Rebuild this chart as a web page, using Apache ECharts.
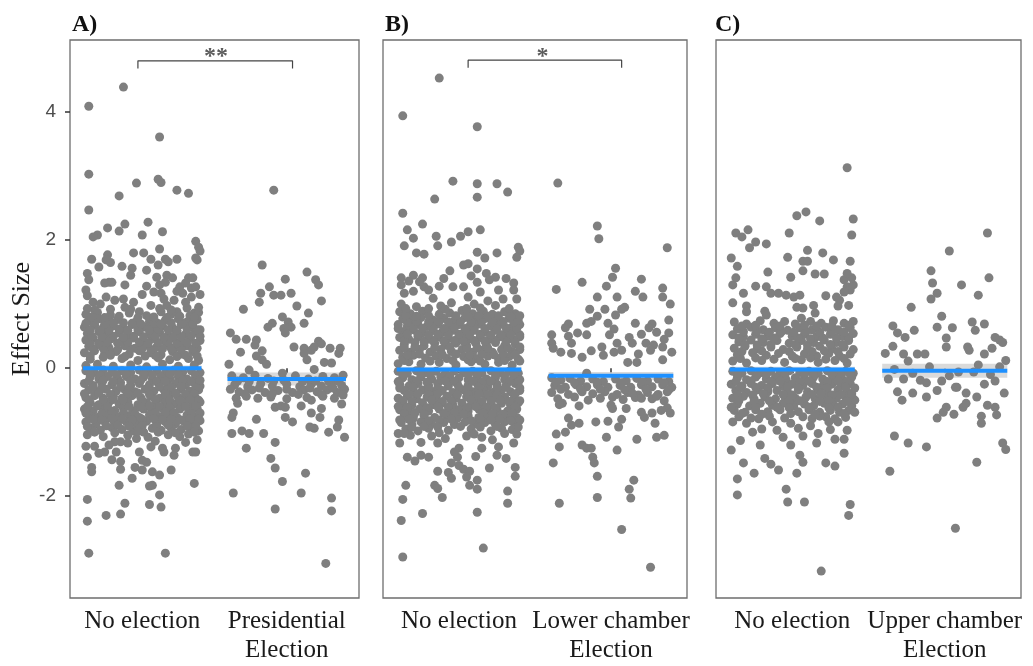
<!DOCTYPE html>
<html><head><meta charset="utf-8">
<script src="https://cdn.jsdelivr.net/npm/echarts@6/dist/echarts.min.js"></script>
<style>html,body{margin:0;padding:0;background:#fff}#c{width:1033px;height:666px}</style>
</head><body><div id="c"></div>
<script>
// ---- categories / labels ----
const panelTitles = ['A)', 'B)', 'C)'];
const catsA = ['No election', 'Presidential\nElection'];
const catsB = ['No election', 'Lower chamber\nElection'];
const catsC = ['No election', 'Upper chamber\nElection'];
const yTicks = [-2, 0, 2, 4];
const xTicks = [1, 2];

// ---- points: [jitter offset within category, effect size] ----
const aNo = [
[-0.37,4.09],[-0.13,4.39],[0.12,3.61],[-0.37,3.03],[-0.04,2.89],[0.11,2.95],[0.13,2.90],[0.24,2.78],[0.32,2.73],[-0.16,2.69],
[-0.37,2.47],[0.04,2.28],[-0.12,2.25],[-0.24,2.19],[-0.16,2.14],[0.14,2.13],[-0.31,2.08],[-0.34,2.05],[0.00,2.08],[0.37,1.98],[0.39,1.89],[0.40,1.83],[-0.06,1.80],[0.01,1.80],[0.12,1.86],[-0.24,1.77],[-0.25,1.69],[-0.35,1.70],[0.06,1.70],[0.16,1.70],[0.24,1.70],[0.38,1.69],[-0.14,1.59],[-0.07,1.56],[0.11,1.61],[-0.30,1.58],[-0.22,1.65],[0.18,1.66],[0.37,1.72],
[-0.38,1.48],[-0.37,1.38],[-0.39,1.22],[0.03,1.53],[0.17,1.45],[0.21,1.41],[0.32,1.41],[-0.23,1.34],[-0.12,1.30],[0.03,1.28],[0.12,1.30],[0.26,1.27],[0.34,1.25],[-0.08,1.45],[0.10,1.42],[0.16,1.34],[-0.26,1.33],[-0.21,1.34],[0.30,1.33],[0.35,1.41],[0.37,1.27],[0.13,1.17],[0.08,1.19],[0.28,1.17],[0.34,1.11],[-0.34,1.03],[-0.25,1.11],[-0.19,1.06],[-0.33,0.91],[-0.12,0.95],[-0.06,1.03],[-0.02,0.88],[0.06,0.98],[0.17,0.98],[0.22,1.06],[0.24,0.88],[0.31,0.94],[0.36,0.86],[0.05,0.72],
[-0.39,0.84],[-0.31,0.87],[-0.22,0.83],[-0.09,0.86],[0.03,0.82],[0.13,0.88],[0.20,0.84],[0.33,0.82],[0.39,0.87],
[-0.37,0.74],[-0.30,0.77],[-0.23,0.72],[-0.17,0.76],[-0.04,0.73],[0.05,0.78],[0.10,0.71],[0.16,0.75],[0.25,0.77],[0.31,0.72],[0.38,0.76],
[-0.40,0.64],[-0.33,0.67],[-0.27,0.63],[-0.20,0.66],[-0.13,0.62],[-0.07,0.68],[0.02,0.64],[0.08,0.61],[0.14,0.66],[0.21,0.63],[0.27,0.68],[0.35,0.64],[0.40,0.60],
[-0.38,0.54],[-0.30,0.57],[-0.25,0.52],[-0.16,0.55],[-0.10,0.51],[-0.02,0.57],[0.05,0.53],[0.12,0.56],[0.18,0.51],[0.24,0.57],[0.30,0.53],[0.37,0.56],
[-0.39,0.44],[-0.34,0.47],[-0.27,0.42],[-0.21,0.46],[-0.14,0.43],[-0.06,0.47],[0.00,0.42],[0.07,0.46],[0.15,0.43],[0.20,0.47],[0.28,0.41],[0.33,0.46],[0.40,0.43],
[-0.37,0.34],[-0.30,0.37],[-0.23,0.32],[-0.12,0.35],[-0.05,0.31],[0.03,0.36],[0.10,0.33],[0.17,0.37],[0.23,0.32],[0.31,0.35],[0.38,0.31],
[-0.40,0.24],[-0.33,0.27],[-0.26,0.23],[-0.18,0.26],[-0.09,0.22],[-0.02,0.27],[0.06,0.24],[0.13,0.21],[0.21,0.26],[0.27,0.22],[0.35,0.26],
[-0.36,0.14],[-0.27,0.17],[-0.14,0.15],[-0.03,0.12],[0.11,0.16],[0.19,0.13],[0.32,0.15],[0.39,0.12],
[-0.39,0.04],[-0.31,0.06],[-0.20,0.03],[-0.08,0.05],[0.03,0.02],[0.14,0.06],[0.25,0.03],[0.36,0.05],
[-0.39,-0.04],[-0.33,-0.07],[-0.27,-0.03],[-0.21,-0.06],[-0.14,-0.04],[-0.08,-0.07],[-0.02,-0.03],[0.04,-0.06],[0.10,-0.04],[0.16,-0.07],[0.22,-0.03],[0.28,-0.06],[0.34,-0.04],[0.40,-0.07],
[-0.36,-0.14],[-0.30,-0.17],[-0.24,-0.13],[-0.17,-0.16],[-0.11,-0.13],[-0.05,-0.17],[0.01,-0.14],[0.07,-0.17],[0.13,-0.13],[0.19,-0.16],[0.25,-0.14],[0.31,-0.17],[0.37,-0.13],
[-0.40,-0.24],[-0.34,-0.27],[-0.28,-0.23],[-0.21,-0.26],[-0.15,-0.23],[-0.08,-0.27],[-0.02,-0.24],[0.05,-0.26],[0.11,-0.23],[0.18,-0.27],[0.23,-0.24],[0.30,-0.26],[0.36,-0.23],[0.40,-0.28],
[-0.37,-0.34],[-0.31,-0.37],[-0.25,-0.33],[-0.18,-0.36],[-0.12,-0.34],[-0.05,-0.37],[0.02,-0.33],[0.08,-0.36],[0.15,-0.34],[0.21,-0.37],[0.27,-0.33],[0.33,-0.36],[0.39,-0.34],
[-0.39,-0.46],[-0.33,-0.43],[-0.27,-0.47],[-0.20,-0.44],[-0.14,-0.47],[-0.07,-0.43],[-0.01,-0.46],[0.06,-0.44],[0.12,-0.47],[0.19,-0.43],[0.25,-0.46],[0.31,-0.44],[0.37,-0.47],
[-0.36,-0.54],[-0.30,-0.57],[-0.23,-0.53],[-0.16,-0.56],[-0.10,-0.53],[-0.03,-0.57],[0.03,-0.54],[0.09,-0.57],[0.16,-0.53],[0.22,-0.56],[0.29,-0.54],[0.35,-0.57],[0.40,-0.53],
[-0.40,-0.64],[-0.34,-0.67],[-0.27,-0.63],[-0.19,-0.66],[-0.13,-0.63],[-0.06,-0.67],[0.01,-0.64],[0.07,-0.66],[0.14,-0.63],[0.20,-0.67],[0.26,-0.64],[0.33,-0.66],[0.38,-0.63],
[-0.37,-0.74],[-0.31,-0.77],[-0.24,-0.73],[-0.17,-0.76],[-0.09,-0.74],[-0.02,-0.77],[0.05,-0.73],[0.12,-0.76],[0.18,-0.74],[0.24,-0.77],[0.31,-0.73],[0.37,-0.76],
[-0.39,-0.84],[-0.32,-0.87],[-0.26,-0.83],[-0.19,-0.86],[-0.11,-0.84],[-0.04,-0.87],[0.03,-0.83],[0.10,-0.86],[0.16,-0.84],[0.23,-0.87],[0.29,-0.83],[0.36,-0.86],[0.40,-0.82],
[-0.36,-0.94],[-0.29,-0.97],[-0.21,-0.93],[-0.14,-0.96],[-0.06,-0.98],[0.07,-0.94],[0.13,-0.97],[0.20,-0.93],[0.27,-0.96],[0.34,-0.94],[0.39,-0.98],
[-0.38,-1.04],[-0.27,-1.07],[-0.10,-1.05],[0.04,-1.08],[0.18,-1.04],[0.26,-1.07],[0.32,-1.03],
[-0.39,-1.22],[-0.33,-1.22],[-0.38,-1.39],[-0.35,-1.55],[-0.35,-1.62],[-0.26,-1.31],[-0.21,-1.43],[-0.15,-1.46],[-0.18,-1.31],[-0.15,-1.15],[-0.19,-1.15],[-0.04,-1.10],[0.01,-1.00],[-0.05,-1.55],[0.00,-1.59],[-0.07,-1.72],[-0.15,-1.58],[-0.16,-1.83],[0.07,-1.62],[0.12,-1.67],[0.20,-1.59],[0.05,-1.84],[0.07,-1.83],[0.12,-1.98],[0.05,-2.13],[0.13,-2.17],[-0.12,-2.11],[-0.38,-2.05],[-0.25,-2.30],[-0.15,-2.28],[-0.38,-2.39],[-0.37,-2.89],[0.16,-2.89],[0.36,-1.80],[0.35,-1.31],[0.37,-1.31],[0.14,-1.25],[0.15,-1.31],[0.22,-1.36],[0.23,-1.25],[0.00,-1.44],[-0.02,-1.31],[0.06,-1.23],[-0.23,-1.20],[-0.30,-1.33],[0.03,-1.47],[0.09,-1.14],[-0.10,-1.17],[0.30,-1.16],[0.38,-1.12]
];
const aNoCore = [
[-0.36,-0.10],[-0.29,-0.11],[-0.18,-0.10],[-0.11,-0.09],[0.01,-0.10],[0.07,-0.11],[0.19,-0.10],[0.25,-0.09],[0.37,-0.11],
[-0.37,-0.20],[-0.27,-0.19],[-0.20,-0.21],[-0.08,-0.20],[-0.01,-0.19],[0.10,-0.21],[0.16,-0.20],[0.28,-0.19],[0.34,-0.21],[0.40,-0.19],
[-0.34,-0.30],[-0.28,-0.31],[-0.15,-0.29],[-0.09,-0.30],[0.04,-0.31],[0.12,-0.29],[0.20,-0.30],[0.27,-0.29],[0.37,-0.31],
[-0.40,-0.40],[-0.30,-0.39],[-0.22,-0.41],[-0.10,-0.40],[-0.03,-0.39],[0.05,-0.41],[0.16,-0.40],[0.23,-0.39],[0.30,-0.41],[0.36,-0.40],
[-0.37,-0.50],[-0.27,-0.51],[-0.20,-0.49],[-0.13,-0.50],[0.00,-0.51],[0.09,-0.49],[0.19,-0.50],[0.26,-0.51],[0.33,-0.49],[0.39,-0.50],
[-0.38,-0.60],[-0.31,-0.59],[-0.24,-0.61],[-0.09,-0.60],[-0.01,-0.61],[0.05,-0.59],[0.12,-0.60],[0.19,-0.61],[0.30,-0.60],[0.37,-0.59],
[-0.39,-0.70],[-0.28,-0.71],[-0.21,-0.69],[-0.13,-0.70],[-0.05,-0.71],[0.09,-0.70],[0.16,-0.69],[0.22,-0.70],[0.34,-0.71],[0.40,-0.70],
[-0.34,-0.80],[-0.28,-0.81],[-0.21,-0.79],[-0.14,-0.80],[-0.07,-0.81],[0.00,-0.80],[0.08,-0.79],[0.14,-0.81],[0.20,-0.80],[0.27,-0.81],[0.33,-0.79],[0.39,-0.80],
[-0.38,-0.91],[-0.25,-0.90],[-0.17,-0.89],[-0.09,-0.91],[0.00,-0.90],[0.10,-0.91],[0.18,-0.89],[0.31,-0.90],[0.37,-0.91],
[-0.33,-1.00],[-0.19,-1.01],[-0.03,-0.99],[0.11,-1.00],[0.23,-1.01],[0.36,-1.00],
[-0.36,0.19],[-0.22,0.20],[-0.12,0.18],[0.02,0.19],[0.09,0.20],[0.24,0.18],[0.30,0.20],[0.38,0.19],
[-0.34,0.30],[-0.27,0.31],[-0.17,0.29],[-0.08,0.30],[0.00,0.31],[0.06,0.29],[0.14,0.30],[0.20,0.31],[0.27,0.29],[0.35,0.30],
[-0.36,0.40],[-0.30,0.39],[-0.24,0.41],[-0.17,0.39],[-0.10,0.40],[-0.02,0.41],[0.04,0.39],[0.11,0.40],[0.18,0.41],[0.24,0.39],[0.31,0.40],[0.37,0.39],
[-0.35,0.50],[-0.28,0.49],[-0.20,0.50],[-0.13,0.48],[-0.06,0.50],[0.01,0.49],[0.09,0.50],[0.15,0.48],[0.22,0.50],[0.27,0.49],[0.34,0.51],[0.40,0.50],
[-0.36,0.60],[-0.29,0.59],[-0.23,0.60],[-0.16,0.61],[-0.10,0.59],[-0.03,0.60],[0.05,0.59],[0.11,0.61],[0.18,0.60],[0.24,0.59],[0.31,0.61],[0.38,0.60],
[-0.39,0.70],[-0.33,0.71],[-0.26,0.69],[-0.20,0.70],[-0.13,0.71],[-0.07,0.70],[-0.01,0.69],[0.08,0.70],[0.13,0.69],[0.20,0.71],[0.28,0.70],[0.35,0.69],
[-0.35,0.80],[-0.26,0.79],[-0.16,0.81],[-0.03,0.79],[0.08,0.80],[0.17,0.79],[0.26,0.81],[0.36,0.80],
[-0.38,0.93],[-0.22,0.92],[-0.08,0.92],[0.12,0.93],[0.20,0.91],[0.39,0.95],
[-0.29,1.00],[-0.13,1.08],[0.00,1.15],[0.15,1.08],[0.30,1.03],[-0.38,1.13],[0.40,1.15],[0.24,1.20]
];
const aPres = [
[-0.09,2.78],[-0.17,1.61],[0.14,1.50],[0.20,1.38],[0.22,1.30],[-0.01,1.39],[-0.12,1.27],[-0.18,1.17],[-0.09,1.14],[-0.04,1.14],[0.03,1.17],[-0.19,1.03],[0.24,1.05],[-0.30,0.92],[0.07,0.97],[0.15,0.86],[-0.03,0.80],[-0.10,0.70],[-0.13,0.64],[0.01,0.72],[0.03,0.64],[0.12,0.70],[-0.02,0.62],[-0.01,0.55],[-0.39,0.55],[-0.35,0.45],[-0.28,0.45],[-0.21,0.44],[-0.22,0.36],[-0.32,0.25],[-0.21,0.19],[-0.17,0.13],[-0.14,0.06],[-0.17,0.27],[0.05,0.33],[0.12,0.31],[0.17,0.28],[0.22,0.42],[0.24,0.38],[0.19,0.33],[0.30,0.31],[0.37,0.31],[0.36,0.23],[0.26,0.09],[0.31,0.08],[-0.40,0.06],[-0.03,-0.08],[0.12,0.23],[0.14,0.13],
[-0.38,-0.12],[-0.30,-0.15],[-0.22,-0.11],[-0.13,-0.16],[0.06,-0.12],[0.15,-0.17],[0.25,-0.13],[0.33,-0.15],[0.39,-0.11],[-0.26,-0.03],[0.19,-0.02],
[-0.36,-0.26],[-0.27,-0.29],[-0.18,-0.24],[-0.10,-0.28],[0.00,-0.25],[0.09,-0.29],[0.17,-0.25],[0.24,-0.28],[0.31,-0.24],[0.38,-0.27],
[-0.33,-0.37],[-0.24,-0.34],[-0.15,-0.38],[-0.06,-0.35],[0.04,-0.38],[0.12,-0.34],[0.21,-0.37],[0.28,-0.34],[0.35,-0.38],[0.40,-0.33],
[-0.28,-0.44],[-0.20,-0.47],[-0.11,-0.45],[0.00,-0.48],[0.14,-0.46],[0.25,-0.44],[0.33,-0.47],
[-0.34,-0.20],[-0.26,-0.21],[-0.09,-0.20],[-0.02,-0.19],[0.11,-0.21],[0.20,-0.20],[0.29,-0.21],[0.36,-0.20],
[-0.39,-0.33],[-0.29,-0.40],[-0.19,-0.31],[-0.10,-0.40],[0.00,-0.33],[0.08,-0.41],[0.16,-0.31],[0.24,-0.41],[0.32,-0.31],[0.39,-0.42],
[-0.35,-0.47],[-0.34,-0.55],[-0.37,-0.70],[-0.38,-0.77],[-0.38,-1.02],[-0.31,-0.98],[-0.26,-1.02],[-0.28,-1.25],[-0.21,-0.80],[-0.16,-1.02],[-0.08,-0.61],[-0.04,-0.59],[-0.01,-0.61],[-0.01,-0.77],[0.04,-0.84],[0.10,-0.59],[0.17,-0.50],[0.17,-0.70],[0.23,-0.77],[0.24,-0.63],[0.16,-0.92],[0.19,-0.94],[0.29,-1.00],[0.36,-0.81],[0.35,-0.92],[0.38,-0.56],[0.40,-1.08],[-0.08,-1.16],[-0.11,-1.41],[-0.08,-1.56],[-0.03,-1.77],[0.13,-1.64],[0.10,-1.95],[-0.37,-1.95],[-0.08,-2.20],[0.31,-2.03],[0.31,-2.23],[0.27,-3.05]
];
const bNo = [
[-0.13,4.53],[-0.37,3.94],[0.12,3.77],[-0.04,2.92],[0.12,2.88],[0.25,2.88],[0.32,2.75],[0.12,2.67],[-0.16,2.64],
[-0.37,2.42],[-0.24,2.25],[-0.34,2.16],[-0.30,2.03],[-0.36,1.91],[-0.15,2.06],[-0.14,1.91],[-0.05,1.97],[0.01,2.06],[0.06,2.13],[0.14,2.16],[-0.28,1.80],[-0.23,1.78],[0.12,1.81],[0.17,1.72],[0.25,1.80],[0.39,1.89],[0.40,1.83],[0.38,1.73],[-0.06,1.52],[0.03,1.61],[0.06,1.63],[0.12,1.55],[0.18,1.48],[0.24,1.42],[-0.30,1.45],[-0.38,1.41],[-0.38,1.30],[-0.24,1.41],[-0.23,1.27],[-0.13,1.28],[-0.04,1.27],[0.03,1.27],[0.12,1.34],[0.14,1.19],[0.36,1.33],[0.36,1.22],[0.26,1.22],[-0.36,1.17],[-0.20,1.22],[-0.17,1.09],[-0.12,0.97],[-0.05,1.02],[0.06,1.11],[0.19,1.05],[0.29,1.08],[0.38,1.08],[-0.33,1.36],[-0.26,1.35],[0.20,1.38],[0.31,1.40],[0.08,1.44],[-0.10,1.40],[-0.30,1.20],[0.10,1.00],[0.24,0.98],[-0.38,1.00],[-0.28,0.96],
[-0.39,0.88],[-0.32,0.85],[-0.24,0.89],[-0.06,0.86],[0.02,0.90],[0.09,0.85],[0.16,0.89],[0.22,0.84],[0.30,0.88],[0.37,0.85],
[-0.37,0.77],[-0.31,0.74],[-0.25,0.79],[-0.17,0.75],[-0.10,0.78],[-0.03,0.74],[0.04,0.79],[0.11,0.75],[0.18,0.78],[0.25,0.74],[0.33,0.78],[0.39,0.75],
[-0.40,0.68],[-0.34,0.65],[-0.27,0.69],[-0.21,0.65],[-0.14,0.69],[-0.07,0.64],[0.00,0.68],[0.07,0.65],[0.13,0.69],[0.21,0.66],[0.28,0.69],[0.35,0.64],[0.40,0.68],
[-0.37,0.57],[-0.30,0.60],[-0.24,0.55],[-0.17,0.59],[-0.11,0.56],[-0.04,0.59],[0.03,0.55],[0.10,0.59],[0.17,0.56],[0.24,0.59],[0.31,0.55],[0.37,0.58],
[-0.39,0.48],[-0.33,0.45],[-0.27,0.49],[-0.20,0.45],[-0.13,0.49],[-0.07,0.46],[0.00,0.49],[0.06,0.45],[0.14,0.48],[0.20,0.45],[0.27,0.49],[0.34,0.46],[0.40,0.49],
[-0.36,0.37],[-0.29,0.40],[-0.23,0.35],[-0.16,0.39],[-0.09,0.36],[-0.02,0.39],[0.05,0.35],[0.11,0.39],[0.18,0.36],[0.24,0.40],[0.30,0.35],[0.37,0.38],
[-0.39,0.28],[-0.32,0.25],[-0.26,0.29],[-0.19,0.25],[-0.12,0.29],[-0.05,0.26],[0.02,0.29],[0.09,0.25],[0.15,0.28],[0.22,0.25],[0.28,0.29],[0.35,0.26],[0.40,0.29],
[-0.37,0.17],[-0.30,0.20],[-0.22,0.16],[-0.15,0.19],[-0.08,0.15],[0.03,0.18],[0.11,0.15],[0.19,0.19],[0.26,0.15],[0.33,0.18],[0.39,0.14],
[-0.40,0.07],[-0.33,0.10],[-0.25,0.06],[-0.13,0.09],[-0.02,0.05],[0.08,0.10],[0.17,0.06],[0.26,0.09],[0.35,0.05],
[-0.40,-0.05],[-0.34,-0.08],[-0.28,-0.04],[-0.22,-0.07],[-0.15,-0.05],[-0.09,-0.08],[-0.03,-0.04],[0.03,-0.07],[0.09,-0.05],[0.15,-0.08],[0.21,-0.04],[0.27,-0.07],[0.33,-0.05],[0.39,-0.08],
[-0.37,-0.15],[-0.31,-0.18],[-0.25,-0.14],[-0.18,-0.17],[-0.12,-0.14],[-0.06,-0.18],[0.00,-0.15],[0.06,-0.18],[0.12,-0.14],[0.18,-0.17],[0.24,-0.15],[0.30,-0.18],[0.36,-0.14],[0.40,-0.18],
[-0.39,-0.25],[-0.33,-0.28],[-0.27,-0.24],[-0.20,-0.27],[-0.14,-0.24],[-0.07,-0.28],[-0.01,-0.25],[0.06,-0.27],[0.12,-0.24],[0.19,-0.28],[0.25,-0.25],[0.31,-0.27],[0.37,-0.24],
[-0.36,-0.35],[-0.30,-0.38],[-0.24,-0.34],[-0.17,-0.37],[-0.11,-0.35],[-0.04,-0.38],[0.03,-0.34],[0.09,-0.37],[0.16,-0.35],[0.22,-0.38],[0.28,-0.34],[0.34,-0.37],[0.40,-0.35],
[-0.40,-0.47],[-0.34,-0.44],[-0.28,-0.48],[-0.21,-0.45],[-0.15,-0.48],[-0.08,-0.44],[-0.02,-0.47],[0.05,-0.45],[0.11,-0.48],[0.18,-0.44],[0.24,-0.47],[0.30,-0.45],[0.36,-0.48],
[-0.37,-0.55],[-0.31,-0.58],[-0.24,-0.54],[-0.17,-0.57],[-0.11,-0.54],[-0.04,-0.58],[0.02,-0.55],[0.08,-0.58],[0.15,-0.54],[0.21,-0.57],[0.28,-0.55],[0.34,-0.58],[0.39,-0.54],
[-0.39,-0.65],[-0.33,-0.68],[-0.26,-0.64],[-0.20,-0.67],[-0.13,-0.64],[-0.07,-0.68],[0.00,-0.65],[0.06,-0.67],[0.13,-0.64],[0.19,-0.68],[0.25,-0.65],[0.32,-0.67],[0.38,-0.64],
[-0.36,-0.75],[-0.30,-0.78],[-0.23,-0.74],[-0.16,-0.77],[-0.08,-0.75],[-0.01,-0.78],[0.06,-0.74],[0.13,-0.77],[0.19,-0.75],[0.25,-0.78],[0.32,-0.74],[0.38,-0.77],
[-0.38,-0.85],[-0.31,-0.88],[-0.25,-0.84],[-0.18,-0.87],[-0.10,-0.85],[-0.03,-0.88],[0.04,-0.84],[0.11,-0.87],[0.17,-0.85],[0.24,-0.88],[0.30,-0.84],[0.37,-0.87],
[-0.35,-0.95],[-0.27,-0.98],[-0.20,-0.94],[-0.07,-0.97],[0.08,-0.95],[0.21,-0.98],[0.28,-0.94],[0.35,-0.96],
[-0.39,-1.17],[-0.32,-1.05],[-0.25,-1.16],[-0.34,-1.39],[-0.29,-1.45],[-0.25,-1.36],[-0.20,-1.39],[-0.14,-1.17],[-0.14,-1.61],[-0.05,-1.48],[-0.07,-1.63],[-0.05,-1.72],[-0.01,-1.39],[0.00,-1.52],[0.03,-1.58],[0.07,-1.61],[0.05,-1.70],[0.07,-1.83],[0.12,-1.75],[0.12,-1.89],[-0.16,-1.83],[-0.14,-1.88],[-0.11,-2.02],[-0.35,-1.83],[-0.37,-2.05],[-0.24,-2.27],[-0.38,-2.38],[-0.37,-2.95],[0.16,-2.81],[0.12,-2.25],[0.20,-1.56],[0.32,-1.92],[0.32,-2.11],[0.37,-1.69],[0.37,-1.55],[0.31,-1.41],[0.26,-1.23],[0.25,-1.36],[0.15,-1.25],[0.11,-1.38],[0.36,-1.17],[0.38,-1.03],[0.15,-1.08],[0.00,-1.25],[-0.03,-1.31],[-0.40,-1.02],[-0.09,-1.10],[0.05,-1.06],[-0.18,-1.06],[0.22,-1.12]
];
const bNoCore = [
[-0.37,-0.10],[-0.25,-0.11],[-0.19,-0.10],[-0.06,-0.12],[0.06,-0.10],[0.12,-0.11],[0.24,-0.10],[0.30,-0.12],[0.36,-0.10],
[-0.40,-0.21],[-0.28,-0.20],[-0.21,-0.22],[-0.09,-0.20],[-0.03,-0.21],[0.09,-0.20],[0.15,-0.22],[0.21,-0.20],[0.33,-0.21],[0.39,-0.22],
[-0.39,-0.31],[-0.30,-0.30],[-0.20,-0.32],[-0.14,-0.31],[0.00,-0.30],[0.06,-0.32],[0.13,-0.30],[0.25,-0.31],[0.31,-0.30],[0.40,-0.31],
[-0.33,-0.41],[-0.27,-0.40],[-0.20,-0.42],[-0.14,-0.40],[-0.01,-0.41],[0.06,-0.42],[0.13,-0.40],[0.19,-0.41],[0.25,-0.42],[0.37,-0.40],
[-0.37,-0.51],[-0.31,-0.52],[-0.18,-0.50],[-0.11,-0.52],[-0.05,-0.51],[0.08,-0.50],[0.15,-0.52],[0.21,-0.51],[0.27,-0.50],[0.33,-0.52],[0.40,-0.51],
[-0.40,-0.60],[-0.34,-0.61],[-0.21,-0.62],[-0.14,-0.60],[-0.07,-0.61],[0.05,-0.62],[0.11,-0.60],[0.18,-0.61],[0.24,-0.62],[0.37,-0.60],
[-0.36,-0.71],[-0.29,-0.70],[-0.23,-0.72],[-0.10,-0.71],[-0.03,-0.70],[0.03,-0.72],[0.16,-0.70],[0.22,-0.71],[0.29,-0.72],[0.35,-0.70],
[-0.39,-0.81],[-0.33,-0.80],[-0.20,-0.82],[-0.13,-0.81],[-0.05,-0.80],[0.08,-0.82],[0.14,-0.80],[0.21,-0.81],[0.27,-0.80],[0.34,-0.82],[0.40,-0.81],
[-0.31,-0.92],[-0.23,-0.91],[-0.14,-0.92],[0.01,-0.91],[0.14,-0.92],[0.25,-0.91],[0.39,-0.92],
[-0.36,-1.02],[-0.13,-1.01],[0.10,-1.03],[0.30,-1.02],
[-0.36,0.12],[-0.19,0.11],[-0.04,0.12],[0.06,0.13],[0.14,0.11],[0.30,0.12],[0.40,0.11],
[-0.34,0.21],[-0.26,0.22],[-0.11,0.21],[-0.02,0.22],[0.07,0.21],[0.15,0.22],[0.23,0.21],[0.29,0.22],[0.37,0.21],
[-0.36,0.32],[-0.29,0.33],[-0.16,0.32],[-0.06,0.33],[0.05,0.31],[0.12,0.32],[0.19,0.31],[0.32,0.32],[0.40,0.33],
[-0.36,0.43],[-0.23,0.42],[-0.17,0.43],[-0.10,0.42],[-0.03,0.43],[0.03,0.42],[0.10,0.43],[0.17,0.42],[0.24,0.43],[0.31,0.42],[0.37,0.44],
[-0.34,0.53],[-0.27,0.53],[-0.20,0.52],[-0.14,0.53],[-0.07,0.52],[0.00,0.53],[0.07,0.52],[0.14,0.53],[0.21,0.52],[0.28,0.52],[0.34,0.53],[0.40,0.52],
[-0.40,0.62],[-0.30,0.63],[-0.24,0.62],[-0.17,0.63],[-0.10,0.62],[-0.03,0.63],[0.04,0.62],[0.10,0.63],[0.17,0.62],[0.25,0.62],[0.31,0.63],[0.38,0.62],
[-0.34,0.72],[-0.28,0.73],[-0.20,0.72],[-0.13,0.73],[-0.07,0.72],[0.01,0.73],[0.08,0.72],[0.15,0.73],[0.22,0.72],[0.29,0.73],[0.36,0.72],
[-0.35,0.82],[-0.28,0.81],[-0.20,0.82],[-0.13,0.84],[-0.02,0.82],[0.06,0.81],[0.13,0.82],[0.19,0.81],[0.26,0.82],[0.34,0.81],[0.40,0.82],
[-0.35,0.93],[-0.20,0.93],[-0.09,0.92],[0.05,0.93],[0.14,0.94],[0.33,0.93]
];
const bLow = [
[-0.35,2.89],[-0.09,2.22],[-0.08,2.02],[0.37,1.88],[0.03,1.56],[0.01,1.42],[0.20,1.39],[-0.19,1.34],[-0.03,1.28],[-0.36,1.23],[0.16,1.20],[0.34,1.25],[0.34,1.11],[-0.09,1.11],[0.04,1.11],[0.21,1.11],[0.09,0.95],[0.07,0.92],[-0.04,0.92],[-0.14,0.92],[0.03,0.83],[-0.09,0.81],[-0.13,0.73],[-0.16,0.70],[-0.28,0.69],[-0.30,0.63],[-0.02,0.70],[0.02,0.61],[0.16,0.70],[0.27,0.69],[0.25,0.63],[0.30,0.56],[-0.28,0.50],[-0.22,0.55],[-0.16,0.52],[-0.01,0.52],[0.04,0.39],[0.12,0.48],[0.14,0.39],[0.20,0.53],[0.23,0.39],[0.28,0.36],[0.34,0.33],[-0.39,0.52],[-0.39,0.39],[-0.38,0.31],[-0.33,0.25],[-0.26,0.39],[-0.26,0.23],[-0.19,0.17],[-0.13,0.27],[-0.06,0.33],[-0.05,0.20],[0.02,0.25],[0.07,0.28],[0.11,0.09],[0.17,0.09],[0.18,0.22],[0.26,0.28],[0.34,0.13],[-0.16,-0.08],[0.38,0.55],[0.38,0.75],[0.39,1.00],[0.35,0.45],[0.40,0.25],
[-0.39,-0.15],[-0.33,-0.19],[-0.27,-0.16],[-0.20,-0.20],[-0.12,-0.17],[-0.05,-0.21],[0.03,-0.17],[0.10,-0.20],[0.17,-0.16],[0.24,-0.20],[0.31,-0.17],[0.38,-0.21],
[-0.37,-0.27],[-0.30,-0.30],[-0.23,-0.26],[-0.16,-0.29],[-0.09,-0.26],[-0.02,-0.30],[0.06,-0.27],[0.13,-0.30],[0.20,-0.26],[0.27,-0.29],[0.34,-0.26],[0.40,-0.30],
[-0.39,-0.38],[-0.28,-0.41],[-0.19,-0.37],[-0.12,-0.40],[-0.04,-0.37],[0.04,-0.41],[0.11,-0.38],[0.18,-0.42],[0.24,-0.38],[0.31,-0.41],[0.37,-0.37],
[-0.35,-0.48],[-0.15,-0.50],[-0.07,-0.47],[0.08,-0.49],[0.27,-0.48],[0.35,-0.51],
[-0.36,-0.22],[-0.24,-0.23],[-0.09,-0.22],[0.07,-0.23],[0.21,-0.22],[0.35,-0.23],
[-0.33,-0.33],[-0.20,-0.33],[-0.07,-0.33],[0.09,-0.34],[0.23,-0.33],[0.38,-0.34],
[-0.24,-0.45],[0.01,-0.45],[0.16,-0.46],[0.30,-0.44],
[-0.32,-0.55],[-0.21,-0.59],[-0.34,-0.57],[-0.28,-0.78],[-0.26,-0.89],[-0.21,-0.86],[-0.36,-1.03],[-0.30,-1.00],[-0.34,-1.23],[-0.38,-1.48],[-0.34,-2.11],[-0.19,-1.20],[-0.16,-1.25],[-0.13,-1.25],[-0.12,-1.39],[-0.11,-1.48],[-0.09,-1.69],[-0.09,-2.02],[-0.10,-0.84],[-0.02,-0.83],[-0.03,-1.08],[0.04,-1.28],[0.00,-0.58],[0.01,-0.63],[0.07,-0.80],[0.05,-0.92],[0.10,-0.63],[0.15,-1.75],[0.12,-1.89],[0.13,-2.03],[0.07,-2.52],[0.26,-3.11],[0.17,-1.11],[0.20,-0.69],[0.22,-0.77],[0.27,-0.70],[0.29,-0.86],[0.30,-1.08],[0.35,-1.05],[0.20,-0.47],[0.14,-0.39],[0.37,-0.62],[0.39,-0.70],[0.33,-0.66]
];
const cNo = [
[0.36,3.13],[0.09,2.44],[0.03,2.38],[0.18,2.30],[0.40,2.33],[0.39,2.08],[-0.37,2.11],[-0.33,2.05],[-0.29,2.16],[-0.24,1.97],[-0.28,1.88],[-0.17,1.94],[-0.02,2.11],[0.10,1.84],[0.20,1.80],[-0.03,1.73],[0.07,1.67],[0.10,1.67],[0.27,1.69],[0.38,1.67],[-0.40,1.72],[-0.36,1.59],[-0.16,1.50],[0.07,1.52],[0.15,1.47],[0.21,1.47],[-0.01,1.42],[-0.37,1.41],[-0.39,1.30],[-0.24,1.28],[-0.17,1.27],[-0.14,1.17],[-0.09,1.17],[-0.04,1.14],[0.01,1.11],[0.05,1.14],[0.34,1.38],[0.36,1.27],[0.38,1.22],[0.34,1.19],[0.29,1.11],[0.31,1.06],[0.22,1.13],[-0.32,1.17],[-0.39,1.02],[-0.30,0.97],[-0.30,0.88],[0.03,0.95],[0.07,0.94],[0.14,0.98],[0.15,0.86],[0.30,0.97],[0.37,0.98],[-0.18,0.89],[-0.17,0.83],[0.06,0.78],[0.40,1.30],[0.39,1.41],[0.36,1.48],
[-0.38,0.72],[-0.30,0.69],[-0.21,0.74],[-0.12,0.70],[-0.05,0.73],[0.02,0.69],[0.12,0.73],[0.19,0.70],[0.27,0.74],[0.34,0.70],[0.40,0.73],
[-0.36,0.61],[-0.27,0.64],[-0.19,0.60],[-0.11,0.63],[-0.03,0.59],[0.05,0.63],[0.13,0.60],[0.22,0.64],[0.30,0.60],[0.38,0.63],
[-0.39,0.52],[-0.32,0.49],[-0.24,0.53],[-0.16,0.50],[-0.08,0.54],[0.00,0.50],[0.08,0.53],[0.16,0.49],[0.25,0.53],[0.33,0.50],[0.40,0.54],
[-0.35,0.41],[-0.27,0.44],[-0.19,0.40],[-0.10,0.43],[-0.02,0.39],[0.06,0.43],[0.14,0.40],[0.21,0.44],[0.29,0.40],[0.37,0.43],
[-0.38,0.31],[-0.31,0.34],[-0.23,0.30],[-0.14,0.33],[-0.06,0.29],[0.03,0.33],[0.10,0.30],[0.18,0.34],[0.26,0.30],[0.34,0.33],[0.40,0.29],
[-0.36,0.21],[-0.26,0.24],[-0.17,0.20],[-0.09,0.23],[0.00,0.19],[0.08,0.22],[0.16,0.19],[0.24,0.23],[0.31,0.19],[0.38,0.22],
[-0.39,0.11],[-0.30,0.08],[-0.20,0.12],[-0.05,0.09],[0.06,0.13],[0.17,0.09],[0.28,0.12],[0.36,0.08],
[-0.39,-0.05],[-0.33,-0.08],[-0.27,-0.04],[-0.20,-0.07],[-0.14,-0.05],[-0.08,-0.08],[-0.02,-0.04],[0.05,-0.07],[0.11,-0.05],[0.17,-0.08],[0.23,-0.04],[0.29,-0.07],[0.35,-0.05],[0.40,-0.08],
[-0.36,-0.15],[-0.30,-0.18],[-0.24,-0.14],[-0.17,-0.17],[-0.11,-0.14],[-0.04,-0.18],[0.02,-0.15],[0.08,-0.18],[0.14,-0.14],[0.20,-0.17],[0.27,-0.15],[0.33,-0.18],[0.39,-0.14],
[-0.40,-0.25],[-0.33,-0.28],[-0.27,-0.24],[-0.20,-0.27],[-0.13,-0.24],[-0.06,-0.28],[0.00,-0.25],[0.07,-0.27],[0.13,-0.24],[0.20,-0.28],[0.26,-0.25],[0.32,-0.27],[0.38,-0.24],
[-0.37,-0.35],[-0.30,-0.38],[-0.23,-0.34],[-0.16,-0.37],[-0.10,-0.35],[-0.03,-0.38],[0.04,-0.34],[0.10,-0.37],[0.17,-0.35],[0.23,-0.38],[0.30,-0.34],[0.36,-0.37],
[-0.39,-0.47],[-0.32,-0.44],[-0.25,-0.48],[-0.18,-0.45],[-0.11,-0.48],[-0.05,-0.44],[0.02,-0.47],[0.09,-0.45],[0.15,-0.48],[0.22,-0.44],[0.29,-0.47],[0.35,-0.45],[0.40,-0.48],
[-0.36,-0.56],[-0.28,-0.59],[-0.21,-0.55],[-0.13,-0.58],[-0.06,-0.55],[0.01,-0.59],[0.08,-0.56],[0.14,-0.59],[0.21,-0.55],[0.27,-0.58],[0.33,-0.56],[0.39,-0.59],
[-0.38,-0.66],[-0.31,-0.69],[-0.24,-0.65],[-0.16,-0.68],[-0.08,-0.65],[0.04,-0.68],[0.11,-0.65],[0.18,-0.69],[0.25,-0.66],[0.31,-0.69],[0.37,-0.66],
[-0.35,-0.76],[-0.22,-0.79],[-0.15,-0.75],[-0.05,-0.78],[0.07,-0.76],[0.13,-0.79],[0.22,-0.76],[0.28,-0.79],[0.35,-0.77],
[-0.39,-0.84],[-0.40,-1.28],[-0.32,-1.48],[-0.36,-1.73],[-0.36,-1.98],[-0.25,-1.64],[-0.21,-1.20],[-0.18,-1.41],[-0.14,-1.50],[-0.09,-1.59],[-0.04,-1.89],[-0.03,-2.09],[0.08,-2.09],[0.03,-1.64],[0.07,-1.47],[0.05,-1.36],[-0.01,-1.20],[-0.06,-1.08],[-0.01,-0.86],[0.04,-0.94],[0.07,-1.06],[0.16,-1.17],[0.17,-1.02],[0.18,-0.75],[0.22,-1.48],[0.28,-1.53],[0.28,-1.11],[0.30,-0.84],[0.34,-1.11],[0.34,-1.33],[0.36,-0.97],[0.38,-2.13],[0.37,-2.30],[0.19,-3.17],[-0.30,-0.86],[-0.34,-1.13],[-0.27,-0.78],[-0.13,-0.84],[-0.20,-0.95],[0.24,-0.84],[0.41,-0.50],[0.41,-0.69],[-0.26,-1.00],[-0.10,-0.97],[0.12,-0.90],[0.25,-0.96]
];
const cNoCore = [
[-0.36,-0.10],[-0.23,-0.11],[-0.17,-0.10],[-0.05,-0.11],[0.08,-0.10],[0.14,-0.11],[0.26,-0.10],[0.32,-0.11],[0.38,-0.10],
[-0.37,-0.21],[-0.27,-0.20],[-0.14,-0.21],[-0.08,-0.20],[0.05,-0.21],[0.11,-0.20],[0.23,-0.21],[0.30,-0.20],[0.36,-0.21],
[-0.34,-0.31],[-0.24,-0.30],[-0.16,-0.31],[-0.03,-0.30],[0.04,-0.31],[0.16,-0.30],[0.23,-0.31],[0.35,-0.30],[0.41,-0.31],
[-0.36,-0.41],[-0.26,-0.42],[-0.19,-0.40],[-0.06,-0.41],[0.00,-0.42],[0.13,-0.41],[0.19,-0.40],[0.26,-0.42],[0.32,-0.41],[0.39,-0.40],
[-0.35,-0.51],[-0.25,-0.52],[-0.15,-0.51],[-0.02,-0.52],[0.05,-0.51],[0.18,-0.52],[0.24,-0.51],[0.36,-0.52],
[-0.40,-0.61],[-0.24,-0.62],[-0.10,-0.61],[-0.02,-0.62],[0.11,-0.61],[0.24,-0.62],[0.30,-0.61],
[-0.33,-0.71],[-0.20,-0.72],[-0.01,-0.71],[0.15,-0.72],[0.34,-0.71],
[-0.34,0.15],[-0.24,0.16],[-0.12,0.14],[0.02,0.15],[0.12,0.16],[0.22,0.14],[0.34,0.15],
[-0.33,0.26],[-0.20,0.27],[-0.02,0.26],[0.13,0.26],[0.21,0.27],[0.30,0.26],
[-0.31,0.37],[-0.23,0.36],[-0.14,0.37],[0.02,0.37],[0.10,0.36],[0.25,0.37],[0.33,0.37],
[-0.35,0.47],[-0.20,0.46],[-0.12,0.47],[0.04,0.47],[0.12,0.46],[0.20,0.47],[0.29,0.47],[0.37,0.48],
[-0.32,0.57],[-0.23,0.58],[-0.15,0.56],[-0.07,0.57],[0.01,0.56],[0.09,0.57],[0.18,0.56],[0.26,0.57],[0.34,0.56],
[-0.33,0.66],[-0.24,0.67],[-0.08,0.66],[0.08,0.67],[0.16,0.66],[0.26,0.66],[0.37,0.67]
];
const cUp = [
[0.28,2.11],[0.03,1.83],[-0.09,1.52],[-0.08,1.33],[-0.05,1.17],[-0.09,1.08],[0.11,1.30],[0.29,1.41],[0.22,1.14],[-0.22,0.95],[-0.02,0.81],[-0.34,0.66],[-0.31,0.55],[-0.20,0.59],[-0.05,0.64],[0.05,0.63],[0.01,0.47],[0.18,0.72],[0.20,0.59],[0.26,0.69],[0.33,0.48],[0.36,0.44],[0.38,0.40],[0.31,0.31],[0.26,0.22],[0.15,0.33],[0.16,0.28],[-0.26,0.48],[-0.34,0.34],[-0.39,0.23],[-0.27,0.22],[-0.24,0.11],[-0.18,0.22],[-0.13,0.22],[0.01,0.33],[0.22,0.05],[-0.21,-0.08],[-0.37,-0.17],[-0.27,-0.17],[-0.16,-0.19],[-0.12,-0.23],[0.09,-0.06],[0.19,-0.06],[0.08,-0.30],[0.14,-0.39],[0.39,-0.39],[-0.31,-0.37],[-0.21,-0.39],[-0.12,-0.45],[-0.28,-0.50],[-0.33,-1.06],[-0.24,-1.17],[-0.12,-1.23],[-0.36,-1.61],[0.07,-0.30],[-0.05,-0.78],[-0.01,-0.69],[0.01,-0.61],[0.06,-0.72],[0.12,-0.61],[0.14,-0.55],[0.24,-0.75],[0.24,-0.86],[0.28,-0.58],[0.33,-0.61],[0.34,-0.73],[0.38,-1.17],[0.40,-1.27],[0.21,-1.47],[0.07,-2.50],
[-0.33,-0.02],[-0.10,0.02],[0.03,-0.12],[0.30,-0.10],[0.36,0.02],[-0.02,-0.20],[0.26,-0.25],[0.33,-0.20],[-0.05,-0.35],[0.21,-0.45],[0.40,0.12]
];

// ---- group means and confidence bands [low, high] ----
const meansA = [0.00, -0.17];
const meansB = [-0.02, -0.12];
const meansC = [-0.02, -0.04];
const bandsA = [[-0.04, 0.04], [-0.27, -0.07]];
const bandsB = [[-0.06, 0.02], [-0.19, -0.06]];
const bandsC = [[-0.06, 0.02], [-0.15, 0.07]];

// ---- significance brackets ----
const bracketA = [[0.97, 4.68], [0.97, 4.80], [2.04, 4.80], [2.04, 4.68]];
const bracketB = [[1.06, 4.69], [1.06, 4.81], [2.07, 4.81], [2.07, 4.69]];
const starA = [1.51, 4.87, '**'];
const starB = [1.55, 4.87, '*'];

const panels = [
  { cats: catsA, groups: [aNo.concat(aNoCore), aPres], means: meansA, bands: bandsA, bracket: bracketA, star: starA },
  { cats: catsB, groups: [bNo.concat(bNoCore), bLow], means: meansB, bands: bandsB, bracket: bracketB, star: starB },
  { cats: catsC, groups: [cNo.concat(cNoCore), cUp], means: meansC, bands: bandsC, bracket: null, star: null }
];

const gridPos = [
  { left: 70, top: 40, width: 289, height: 558 },
  { left: 383, top: 40, width: 304, height: 558 },
  { left: 716, top: 40, width: 305, height: 558 }
];
const titleLeft = [67, 380, 710];

const serif = 'Liberation Serif, Times New Roman, serif';
const HALF = 0.41;

const grid = [], xAxis = [], yAxis = [], series = [], title = [];
panels.forEach((p, i) => {
  grid.push(Object.assign({ show: true, borderColor: '#6e6e6e', borderWidth: 1.3, backgroundColor: '#fff' }, gridPos[i]));
  title.push({ text: panelTitles[i], left: titleLeft[i], top: 8,
    textStyle: { fontFamily: serif, fontWeight: 'bold', fontSize: 24, color: '#111' } });
  xAxis.push({
    type: 'value', gridIndex: i, min: 0.5, max: 2.5,
    axisLine: { show: false }, splitLine: { show: false },
    axisTick: { show: true, customValues: xTicks, length: 5, lineStyle: { color: '#333', width: 1.5 } },
    axisLabel: { show: true, customValues: xTicks, margin: 9,
      formatter: v => p.cats[Math.round(v) - 1] || '',
      fontFamily: serif, fontSize: 25, lineHeight: 29, color: '#1a1a1a' }
  });
  yAxis.push({
    type: 'value', gridIndex: i, min: -3.59, max: 5.125,
    axisLine: { show: false }, splitLine: { show: false },
    axisTick: { show: i === 0, customValues: yTicks, length: 5, lineStyle: { color: '#333', width: 1.5 } },
    axisLabel: { show: i === 0, customValues: yTicks, margin: 14,
      fontFamily: 'Liberation Sans, Arial, sans-serif', fontSize: 19, color: '#4d4d4d' },
    name: i === 0 ? 'Effect Size' : '',
    nameLocation: 'middle', nameGap: 33,
    nameTextStyle: { fontFamily: serif, fontSize: 26, color: '#1a1a1a' }
  });
  p.groups.forEach((g, k) => {
    const c = k + 1;
    series.push({
      type: 'scatter', xAxisIndex: i, yAxisIndex: i, z: 2, silent: true,
      symbolSize: 9, itemStyle: { color: '#7f7f7f', opacity: 1 },
      data: g.map(d => [c + d[0], d[1]])
    });
    series.push({
      type: 'line', xAxisIndex: i, yAxisIndex: i, z: 3, silent: true, data: [],
      markArea: { silent: true, itemStyle: { color: 'rgba(205,205,205,0.75)' },
        data: [[{ coord: [c - HALF, p.bands[k][1]] }, { coord: [c + HALF, p.bands[k][0]] }]] }
    });
    series.push({
      type: 'line', xAxisIndex: i, yAxisIndex: i, z: 4, silent: true,
      symbol: 'none', lineStyle: { color: '#1E90FF', width: 4 },
      data: [[c - HALF, p.means[k]], [c + HALF, p.means[k]]]
    });
  });
  if (p.bracket) {
    series.push({
      type: 'line', xAxisIndex: i, yAxisIndex: i, z: 5, silent: true,
      symbol: 'none', lineStyle: { color: '#444', width: 1.2 }, data: p.bracket
    });
    series.push({
      type: 'scatter', xAxisIndex: i, yAxisIndex: i, z: 5, silent: true,
      symbolSize: 0, data: [[p.star[0], p.star[1]]],
      label: { show: true, position: 'inside', formatter: p.star[2],
        fontFamily: serif, fontSize: 24, fontWeight: 'bold', color: '#333' }
    });
  }
});

const chart = echarts.init(document.getElementById('c'), null, { renderer: 'canvas' });
chart.setOption({ animation: false, backgroundColor: '#fff', title, grid, xAxis, yAxis, series });
</script>
</body></html>
